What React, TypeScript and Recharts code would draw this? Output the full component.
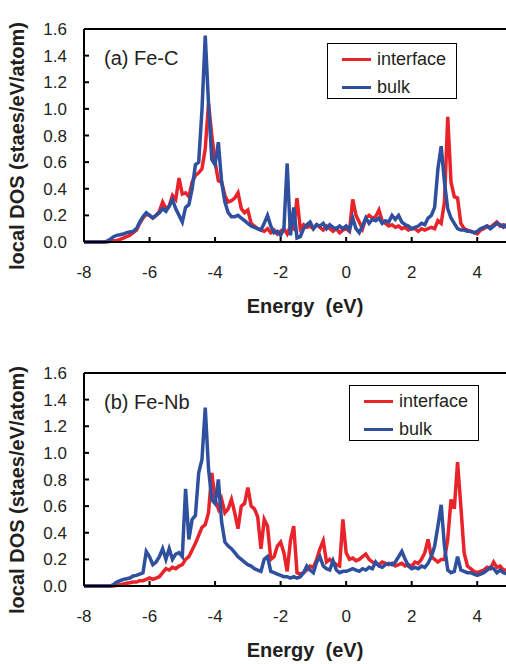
import { LineChart, Line, XAxis, YAxis, ReferenceLine } from 'recharts';

// energy grid (eV)
const energies = [
  -8.0, -7.9, -7.8, -7.7, -7.6, -7.5, -7.4, -7.3, -7.2, -7.1,
  -7.0, -6.9, -6.8, -6.7, -6.6, -6.5, -6.4, -6.3, -6.2, -6.1,
  -6.0, -5.9, -5.8, -5.7, -5.6, -5.5, -5.4, -5.3, -5.2, -5.1,
  -5.0, -4.9, -4.8, -4.7, -4.6, -4.5, -4.4, -4.3, -4.2, -4.1,
  -4.0, -3.9, -3.8, -3.7, -3.6, -3.5, -3.4, -3.3, -3.2, -3.1,
  -3.0, -2.9, -2.8, -2.7, -2.6, -2.5, -2.4, -2.3, -2.2, -2.1,
  -2.0, -1.9, -1.8, -1.7, -1.6, -1.5, -1.4, -1.3, -1.2, -1.1,
  -1.0, -0.9, -0.8, -0.7, -0.6, -0.5, -0.4, -0.3, -0.2, -0.1,
  0.0, 0.1, 0.2, 0.3, 0.4, 0.5, 0.6, 0.7, 0.8, 0.9,
  1.0, 1.1, 1.2, 1.3, 1.4, 1.5, 1.6, 1.7, 1.8, 1.9,
  2.0, 2.1, 2.2, 2.3, 2.4, 2.5, 2.6, 2.7, 2.8, 2.9,
  3.0, 3.1, 3.2, 3.3, 3.4, 3.5, 3.6, 3.7, 3.8, 3.9,
  4.0, 4.1, 4.2, 4.3, 4.4, 4.5, 4.6, 4.7, 4.8, 4.9,
  5.0,
];

// (a) Fe-C
const feCInterface = [
  0, 0, 0, 0, 0, 0, 0, 0, 0.005, 0.01,
  0.01, 0.02, 0.03, 0.04, 0.05, 0.07, 0.09, 0.14, 0.18, 0.21,
  0.2, 0.18, 0.2, 0.23, 0.3, 0.25, 0.27, 0.35, 0.32, 0.48,
  0.36, 0.37, 0.34, 0.45, 0.5, 0.52, 0.55, 0.7, 1.04, 0.8,
  0.6, 0.46, 0.45, 0.35, 0.3, 0.31, 0.33, 0.37, 0.25, 0.22,
  0.24, 0.14, 0.12, 0.1, 0.09, 0.08, 0.1, 0.07, 0.09, 0.06,
  0.08, 0.1, 0.06, 0.12, 0.1, 0.33, 0.1, 0.13, 0.11, 0.12,
  0.1, 0.13, 0.11, 0.09, 0.12, 0.1, 0.08, 0.1, 0.07, 0.09,
  0.1, 0.08, 0.32, 0.2, 0.15, 0.1, 0.18, 0.2, 0.18, 0.19,
  0.24, 0.16, 0.14, 0.12, 0.13, 0.11, 0.12, 0.1, 0.11, 0.09,
  0.1, 0.1, 0.08, 0.1, 0.09, 0.1, 0.11, 0.1, 0.16, 0.14,
  0.3, 0.94, 0.45, 0.34, 0.33, 0.14, 0.1, 0.09, 0.08, 0.07,
  0.06, 0.09, 0.1, 0.12, 0.11, 0.13, 0.15, 0.12, 0.13, 0.11,
  0.12,
];
const feCBulk = [
  0, 0, 0, 0, 0, 0, 0, 0.005, 0.02, 0.04,
  0.05, 0.055, 0.06, 0.07, 0.075, 0.08, 0.1, 0.15, 0.19, 0.22,
  0.2, 0.18, 0.2, 0.22, 0.25, 0.23, 0.27, 0.32, 0.25, 0.2,
  0.15, 0.26, 0.28, 0.4, 0.58, 0.6, 0.99, 1.55, 1.04, 0.62,
  0.58, 0.75, 0.45, 0.3, 0.22, 0.19, 0.19, 0.2, 0.18, 0.16,
  0.14, 0.12, 0.11, 0.1, 0.09, 0.14, 0.2, 0.12, 0.07, 0.08,
  0.05, 0.1, 0.59, 0.05, 0.26, 0.03, 0.04, 0.1, 0.13, 0.15,
  0.1, 0.13, 0.12, 0.14, 0.1, 0.13, 0.11, 0.1, 0.12, 0.1,
  0.12, 0.09, 0.18, 0.1, 0.07, 0.12, 0.18, 0.14, 0.17, 0.16,
  0.18, 0.14, 0.16, 0.15, 0.2, 0.17, 0.2, 0.15, 0.13, 0.12,
  0.1, 0.11, 0.12, 0.14, 0.13, 0.18, 0.2, 0.26, 0.55, 0.72,
  0.45, 0.25, 0.18, 0.14, 0.1, 0.09, 0.09, 0.08, 0.08, 0.07,
  0.08, 0.1, 0.11, 0.12, 0.1, 0.12, 0.14, 0.13, 0.11, 0.13,
  0.12,
];

// (b) Fe-Nb
const feNbInterface = [
  0, 0, 0, 0, 0, 0, 0, 0, 0, 0,
  0.005, 0.01, 0.015, 0.02, 0.025, 0.03, 0.03, 0.04, 0.04, 0.05,
  0.06, 0.05, 0.06, 0.07, 0.1, 0.13, 0.12, 0.14, 0.13, 0.15,
  0.16, 0.2, 0.22, 0.27, 0.32, 0.38, 0.44, 0.46, 0.55, 0.85,
  0.65, 0.58, 0.65, 0.55, 0.58, 0.65, 0.55, 0.43, 0.6, 0.62,
  0.74, 0.6, 0.58, 0.52, 0.28, 0.5, 0.45, 0.2, 0.22, 0.3,
  0.33, 0.25, 0.11, 0.34, 0.45, 0.1, 0.09, 0.1, 0.12, 0.15,
  0.14, 0.2, 0.28, 0.34, 0.18, 0.2, 0.18, 0.16, 0.15, 0.5,
  0.25, 0.2, 0.21, 0.19, 0.2, 0.22, 0.24, 0.2, 0.18, 0.17,
  0.16, 0.18, 0.17, 0.16, 0.17, 0.15, 0.16, 0.17, 0.15, 0.16,
  0.15, 0.18, 0.17, 0.2, 0.25, 0.35, 0.22, 0.2, 0.18, 0.2,
  0.2, 0.35, 0.65, 0.58, 0.93, 0.6, 0.25, 0.15, 0.13, 0.11,
  0.1, 0.11, 0.12, 0.14, 0.13, 0.18, 0.14, 0.15, 0.12, 0.12,
  0.11,
];
const feNbBulk = [
  0, 0, 0, 0, 0, 0, 0, 0, 0, 0.01,
  0.03, 0.04, 0.05, 0.055, 0.06, 0.075, 0.08, 0.09, 0.1, 0.26,
  0.22, 0.16, 0.18, 0.22, 0.28, 0.2, 0.28, 0.2, 0.24, 0.25,
  0.22, 0.73, 0.35, 0.5, 0.53, 0.85, 0.95, 1.34, 0.88, 0.65,
  0.62, 0.8, 0.48, 0.33, 0.3, 0.28, 0.25, 0.22, 0.2, 0.18,
  0.16, 0.15, 0.13, 0.12, 0.11, 0.2, 0.22, 0.11, 0.1, 0.09,
  0.08, 0.07, 0.07, 0.06, 0.07, 0.06, 0.07, 0.1, 0.15, 0.12,
  0.1, 0.18, 0.22, 0.15, 0.13, 0.12, 0.19, 0.12, 0.1, 0.11,
  0.11, 0.12, 0.13, 0.12, 0.11, 0.13, 0.12, 0.14, 0.13, 0.18,
  0.15, 0.14, 0.16, 0.17, 0.16, 0.18, 0.22, 0.26, 0.2, 0.15,
  0.13, 0.14, 0.13, 0.15, 0.14, 0.17, 0.22, 0.3, 0.45, 0.61,
  0.3, 0.12, 0.1, 0.11, 0.22, 0.12, 0.11, 0.1, 0.1, 0.09,
  0.08, 0.09, 0.1, 0.12, 0.14, 0.13, 0.1, 0.12, 0.1, 0.09,
  0.1,
];

const xTicks = [-8, -6, -4, -2, 0, 2, 4];
const yTicks = [0, 0.2, 0.4, 0.6, 0.8, 1.0, 1.2, 1.4, 1.6];

const RED = '#e8232a';
const BLUE = '#2f4f9f';
const INK = '#231f20';
const FONT = '"Liberation Sans", Arial, Helvetica, sans-serif';

function DosPanel({
  top,
  label,
  iface,
  bulk,
  legendLeft,
  legendTop,
}: {
  top: number;
  label: string;
  iface: number[];
  bulk: number[];
  legendLeft: number;
  legendTop: number;
}) {
  const data = energies.map((e, i) => ({ e, interface: iface[i], bulk: bulk[i] }));
  const tick = { fill: INK, fontSize: 17, fontFamily: FONT };
  return (
    <div style={{ position: 'absolute', left: 0, top, width: 506, height: 330 }}>
      <LineChart width={530} height={300} data={data} margin={{ top: 29, right: 20, left: 0, bottom: 28 }}>
        <XAxis
          dataKey="e"
          type="number"
          domain={[-8, 5]}
          ticks={xTicks}
          allowDataOverflow
          height={30}
          tick={tick}
          tickSize={-5}
          tickMargin={29}
          axisLine={{ stroke: '#000', strokeWidth: 2 }}
          tickLine={{ stroke: '#000', strokeWidth: 2 }}
        />
        <YAxis
          type="number"
          domain={[0, 1.6]}
          ticks={yTicks}
          width={84}
          tick={tick}
          tickSize={-5}
          tickMargin={22}
          tickFormatter={(v: number) => v.toFixed(1)}
          axisLine={{ stroke: '#000', strokeWidth: 2 }}
          tickLine={{ stroke: '#000', strokeWidth: 2 }}
        />
        <ReferenceLine y={1.6} stroke="#000" strokeWidth={2} />
        <ReferenceLine x={5} stroke="#000" strokeWidth={2} />
        <Line dataKey="interface" stroke={RED} strokeWidth={3.5} dot={false} isAnimationActive={false} />
        <Line dataKey="bulk" stroke={BLUE} strokeWidth={3.5} dot={false} isAnimationActive={false} />
      </LineChart>

      <div style={{ position: 'absolute', left: 104, top: 47, fontSize: 20, fontFamily: FONT, color: INK }}>
        {label}
      </div>

      <div
        style={{
          position: 'absolute',
          left: legendLeft,
          top: legendTop,
          width: 128,
          height: 54,
          border: '1px solid #000',
          background: '#fff',
          fontFamily: FONT,
          fontSize: 18,
          color: INK,
        }}
      >
        {[
          { name: 'interface', color: RED },
          { name: 'bulk', color: BLUE },
        ].map((it, i) => (
          <div key={it.name} style={{ position: 'absolute', left: 14, top: 4 + i * 28, height: 22, display: 'flex', alignItems: 'center' }}>
            <span style={{ display: 'inline-block', width: 29, height: 3, background: it.color, marginRight: 6 }} />
            <span>{it.name}</span>
          </div>
        ))}
      </div>

      <div
        style={{
          position: 'absolute',
          left: 17,
          top: 146,
          transform: 'translate(-50%, -50%) rotate(-90deg)',
          whiteSpace: 'nowrap',
          fontSize: 20,
          fontWeight: 'bold',
          fontFamily: FONT,
          color: INK,
        }}
      >
        local DOS (staes/eV/atom)
      </div>

      <div
        style={{
          position: 'absolute',
          left: 305,
          top: 306,
          transform: 'translate(-50%, -50%)',
          whiteSpace: 'pre',
          fontSize: 20,
          fontWeight: 'bold',
          fontFamily: FONT,
          color: INK,
        }}
      >
        {'Energy  (eV)'}
      </div>
    </div>
  );
}

export default function App() {
  return (
    <div style={{ position: 'absolute', left: 0, top: 0, width: 506, height: 664, overflow: 'hidden', background: '#fff' }}>
      <DosPanel top={0} label="(a) Fe-C" iface={feCInterface} bulk={feCBulk} legendLeft={327} legendTop={43} />
      <DosPanel top={344} label="(b) Fe-Nb" iface={feNbInterface} bulk={feNbBulk} legendLeft={349} legendTop={41} />
    </div>
  );
}
